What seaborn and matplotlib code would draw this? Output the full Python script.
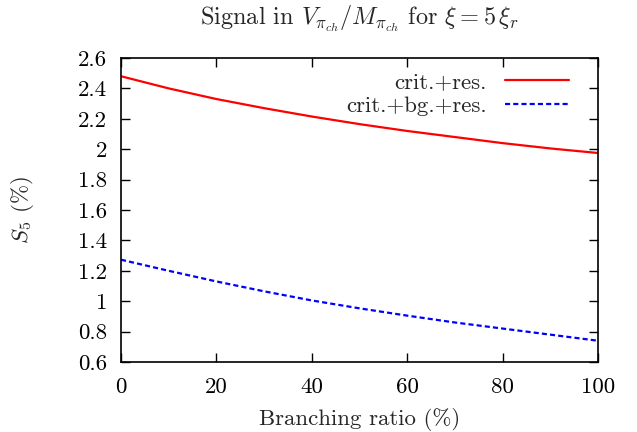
import matplotlib
matplotlib.use("Agg")
import matplotlib.pyplot as plt
import seaborn as sns
import pandas as pd

branching = [0, 10, 20, 30, 40, 50, 60, 70, 80, 90, 100]
crit_res = [2.48, 2.40, 2.33, 2.27, 2.215, 2.165, 2.12, 2.08, 2.04, 2.005, 1.975]
crit_bg_res = [1.273, 1.20, 1.13, 1.065, 1.005, 0.953, 0.905, 0.86, 0.82, 0.78, 0.74]
series_names = ["crit.+res.", "crit.+bg.+res."]
x_ticks = [0, 20, 40, 60, 80, 100]
y_ticks = [0.6, 0.8, 1.0, 1.2, 1.4, 1.6, 1.8, 2.0, 2.2, 2.4, 2.6]
y_tick_labels = ["0.6", "0.8", "1", "1.2", "1.4", "1.6", "1.8", "2", "2.2", "2.4", "2.6"]

sns.set_style("ticks")
plt.rcParams["font.family"] = ["cmr10", "DejaVu Serif"]
plt.rcParams["mathtext.fontset"] = "cm"
plt.rcParams["axes.unicode_minus"] = False
plt.rcParams["axes.formatter.use_mathtext"] = True

FS = 16.5

df = pd.DataFrame({
    "x": branching * 2,
    "y": crit_res + crit_bg_res,
    "series": [series_names[0]] * len(branching) + [series_names[1]] * len(branching),
})

fig = plt.figure(figsize=(6.37, 4.32), dpi=100)
ax = fig.add_axes([121 / 637, 1 - 362 / 432, (598 - 121) / 637, (362 - 58) / 432])

sns.lineplot(data=df, x="x", y="y", hue="series", style="series",
             palette={series_names[0]: "#ff0000", series_names[1]: "#0000ff"},
             dashes={series_names[0]: "", series_names[1]: (2.3, 1.4)},
             linewidth=1.6, ax=ax, legend=True)

ax.set_xlim(0, 100)
ax.set_ylim(0.6, 2.6)
ax.set_xticks(x_ticks)
ax.set_xticklabels([str(v) for v in x_ticks])
ax.set_yticks(y_ticks)
ax.set_yticklabels(y_tick_labels)
ax.tick_params(direction="in", length=6.5, width=1.0, top=True, right=True,
               labelsize=FS, colors="black")
ax.tick_params(axis="x", pad=11)
ax.tick_params(axis="y", pad=10)
for s in ax.spines.values():
    s.set_visible(True)
    s.set_linewidth(1.2)
    s.set_color("black")

ax.set_xlabel("Branching ratio (%)", fontsize=FS, labelpad=8)
ax.set_ylabel(r"$S_5$ (%)", fontsize=FS, labelpad=30)
ax.set_title(r"Signal in $V_{\pi_{ch}}/M_{\pi_{ch}}$ for $\xi = 5\,\xi_r$", fontsize=17.5, pad=24)

handles, labels = ax.get_legend_handles_labels()
leg = ax.legend(handles, labels, loc="upper right", frameon=False, markerfirst=False,
                fontsize=FS, handlelength=2.8, handletextpad=0.8, labelspacing=0.2,
                bbox_to_anchor=(0.968, 1.0), borderaxespad=0.2)

fig.savefig("out.png", dpi=100)
